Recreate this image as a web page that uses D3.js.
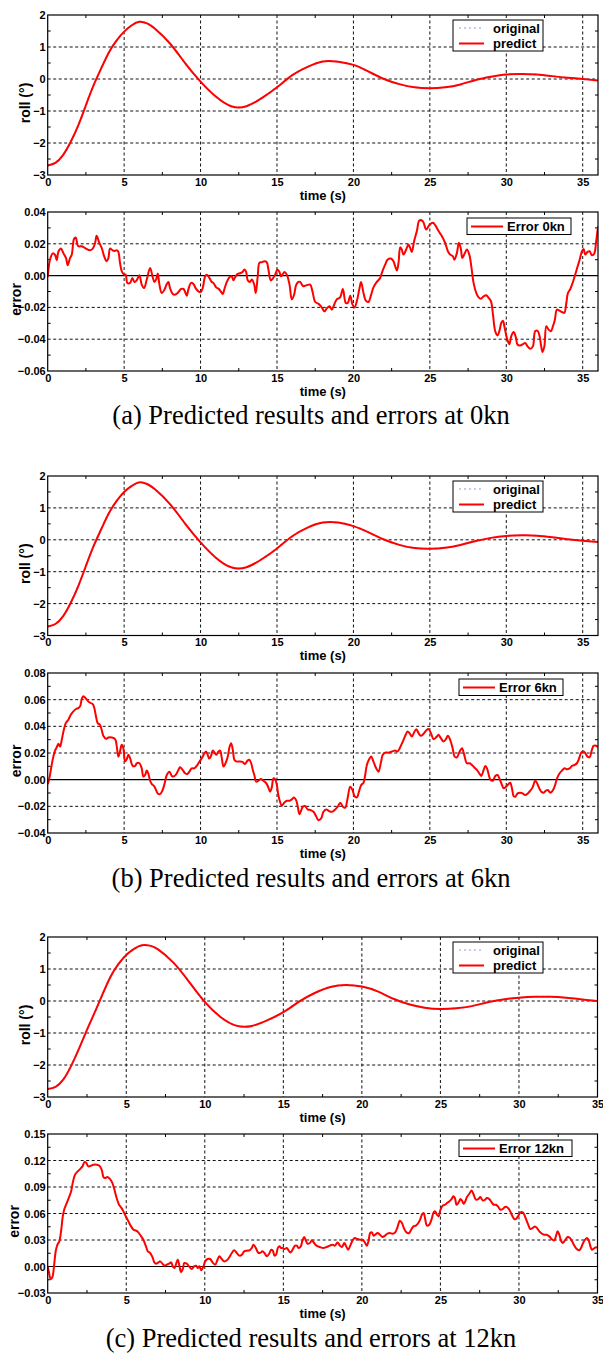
<!DOCTYPE html>
<html><head><meta charset="utf-8">
<script src="https://cdn.jsdelivr.net/npm/d3@7"></script>
<style>body{margin:0;background:#fff}svg{display:block}</style>
</head><body>
<svg id="c" width="603" height="1353"></svg>
<script>
// ---------------- DATA ----------------
const timeTicks = [0, 5, 10, 15, 20, 25, 30, 35];
const rollTicks = [-3, -2, -1, 0, 1, 2];
const err0Ticks = [-0.06, -0.04, -0.02, 0, 0.02, 0.04];
const err6Ticks = [-0.04, -0.02, 0, 0.02, 0.04, 0.06, 0.08];
const err12Ticks = [-0.03, 0, 0.03, 0.06, 0.09, 0.12, 0.15];
const rollLegend = ["original", "predict"];
const errLegend = ["Error 0kn", "Error 6kn", "Error 12kn"];
const captions = ["(a) Predicted results and errors at 0kn", "(b) Predicted results and errors at 6kn", "(c) Predicted results and errors at 12kn"];

const rollTime36 = [0,0.5,1,1.5,2,2.5,3,3.5,4,4.5,5,5.5,6,6.5,7,8,9,10,11,12,13,14,15,16,17,18,19,20,21,22,23,24,25,26,27,28,29,30,31,32,33,34,35,36];
const rollTime35 = [0,0.5,1,1.5,2,2.5,3,3.5,4,4.5,5,5.5,6,6.5,7,8,9,10,11,12,13,14,15,16,17,18,19,20,21,22,23,24,25,26,27,28,29,30,31,32,33,34,35];
const roll0 = [-2.70,-2.62,-2.38,-1.97,-1.45,-0.82,-0.20,0.33,0.83,1.20,1.48,1.68,1.79,1.74,1.58,1.11,0.49,-0.08,-0.55,-0.85,-0.85,-0.60,-0.26,0.12,0.38,0.55,0.54,0.44,0.23,0.00,-0.16,-0.26,-0.29,-0.26,-0.17,-0.03,0.07,0.14,0.16,0.14,0.09,0.04,0.00,-0.05];
const roll6 = [-2.72,-2.64,-2.40,-1.98,-1.45,-0.82,-0.20,0.33,0.83,1.21,1.50,1.69,1.80,1.75,1.59,1.12,0.50,-0.08,-0.56,-0.86,-0.86,-0.61,-0.27,0.11,0.38,0.54,0.54,0.43,0.23,0.01,-0.16,-0.26,-0.28,-0.25,-0.16,-0.04,0.06,0.12,0.14,0.13,0.08,0.02,-0.03,-0.07];
const roll12 = [-2.75,-2.68,-2.45,-2.02,-1.48,-0.90,-0.35,0.22,0.76,1.15,1.44,1.63,1.74,1.73,1.62,1.20,0.60,-0.03,-0.50,-0.77,-0.78,-0.60,-0.35,-0.02,0.25,0.44,0.50,0.45,0.30,0.07,-0.10,-0.21,-0.25,-0.23,-0.16,-0.04,0.05,0.10,0.13,0.13,0.10,0.05,0.00];

// error series: [time (s), error]
const err0 = [[0,-0.001],[0.15,0.010],[0.33,0.014],[0.48,0.013],[0.59,0.0097],[0.7,0.015],[0.87,0.017],[1.03,0.014],[1.2,0.011],[1.31,0.0065],[1.46,0.011],[1.57,0.013],[1.72,0.023],[1.83,0.024],[2.0,0.0185],[2.23,0.0185],[2.5,0.017],[2.77,0.016],[2.95,0.017],[3.1,0.0205],[3.2,0.025],[3.38,0.0205],[3.53,0.0175],[3.7,0.012],[3.86,0.009],[3.97,0.011],[4.08,0.017],[4.23,0.016],[4.36,0.0155],[4.52,0.016],[4.62,0.015],[4.73,0.008],[4.86,0.0023],[5.0,0.0006],[5.1,0.0006],[5.21,-0.0046],[5.39,-0.0046],[5.54,-0.0015],[5.67,-0.004],[5.82,-0.003],[6.0,0.0002],[6.15,-0.0057],[6.3,-0.0078],[6.48,-0.0025],[6.7,0.0048],[6.87,-0.001],[6.98,-0.004],[7.09,-0.0025],[7.2,0.0013],[7.31,-0.0057],[7.46,-0.011],[7.64,-0.0088],[7.79,-0.0053],[7.9,-0.004],[8.0,-0.0078],[8.18,-0.0116],[8.33,-0.012],[8.5,-0.011],[8.73,-0.0084],[8.88,-0.0084],[8.99,-0.0103],[9.1,-0.0126],[9.2,-0.0088],[9.38,-0.0046],[9.53,-0.0053],[9.71,-0.0084],[9.86,-0.0099],[10.01,-0.0103],[10.14,-0.0078],[10.3,-0.0004],[10.41,0.0006],[10.58,-0.0015],[10.73,-0.004],[10.84,-0.0046],[11.02,-0.0074],[11.17,-0.0082],[11.32,-0.0099],[11.45,-0.0116],[11.56,-0.0084],[11.72,-0.004],[11.89,-0.001],[12.04,-0.0004],[12.15,-0.003],[12.26,-0.001],[12.41,0.001],[12.59,0.0015],[12.74,0.0023],[12.87,0.0038],[12.98,0.0023],[13.09,-0.003],[13.24,-0.004],[13.35,-0.0025],[13.5,-0.0053],[13.61,-0.011],[13.74,-0.0004],[13.85,0.008],[14.0,0.0084],[14.18,0.009],[14.33,0.0084],[14.44,0.0038],[14.59,-0.003],[14.72,-0.0019],[14.88,0.0006],[15.03,0.0038],[15.16,0.0023],[15.27,-0.0004],[15.38,0.001],[15.49,0.0023],[15.64,0.0006],[15.82,-0.0057],[15.97,-0.015],[16.12,-0.012],[16.25,-0.006],[16.4,-0.004],[16.51,-0.004],[16.73,-0.0067],[16.95,-0.006],[17.17,-0.0057],[17.32,-0.0099],[17.5,-0.0166],[17.72,-0.0178],[17.93,-0.02],[18.1,-0.0225],[18.27,-0.0204],[18.44,-0.0193],[18.59,-0.0214],[18.74,-0.0183],[18.91,-0.015],[19.13,-0.0137],[19.31,-0.0084],[19.5,-0.0172],[19.63,-0.0172],[19.79,-0.0126],[19.94,-0.0183],[20.07,-0.02],[20.22,-0.0162],[20.38,-0.0088],[20.5,-0.004],[20.66,-0.011],[20.81,-0.0158],[20.98,-0.0166],[21.16,-0.012],[21.31,-0.0074],[21.53,-0.004],[21.75,-0.0015],[21.86,0.0017],[22.08,0.007],[22.23,0.01],[22.45,0.0107],[22.62,0.009],[22.73,0.0059],[22.84,0.0032],[22.95,0.008],[23.06,0.0179],[23.16,0.0164],[23.28,0.0132],[23.45,0.0164],[23.6,0.0195],[23.71,0.0174],[23.82,0.0149],[23.97,0.0216],[24.15,0.028],[24.32,0.0347],[24.54,0.0342],[24.76,0.029],[24.98,0.032],[25.2,0.0332],[25.35,0.0317],[25.57,0.028],[25.79,0.0248],[26.0,0.0206],[26.18,0.0153],[26.33,0.0132],[26.5,0.0122],[26.61,0.01],[26.77,0.0143],[26.9,0.0206],[27.03,0.0168],[27.12,0.0111],[27.27,0.0137],[27.42,0.0164],[27.58,0.0132],[27.71,0.0059],[27.86,-0.0046],[28.04,-0.011],[28.19,-0.0137],[28.34,-0.0145],[28.52,-0.013],[28.69,-0.0124],[28.85,-0.0141],[29.0,-0.0162],[29.13,-0.0246],[29.28,-0.0351],[29.43,-0.0376],[29.57,-0.034],[29.67,-0.0298],[29.78,-0.0284],[29.89,-0.0326],[30.04,-0.0393],[30.2,-0.0431],[30.32,-0.0382],[30.48,-0.0355],[30.61,-0.0382],[30.74,-0.0435],[30.91,-0.0439],[31.09,-0.0431],[31.24,-0.0424],[31.39,-0.0445],[31.57,-0.046],[31.74,-0.0445],[31.89,-0.035],[32.05,-0.0347],[32.18,-0.0382],[32.27,-0.0435],[32.37,-0.048],[32.49,-0.0445],[32.62,-0.0319],[32.77,-0.034],[32.92,-0.035],[33.05,-0.0319],[33.18,-0.0277],[33.31,-0.0214],[33.47,-0.022],[33.64,-0.0229],[33.79,-0.0235],[33.93,-0.0172],[34.03,-0.011],[34.19,-0.0084],[34.36,-0.004],[34.51,0.0006],[34.67,0.0059],[34.8,0.01],[34.95,0.0153],[35.06,0.0168],[35.17,0.0132],[35.32,0.0149],[35.45,0.0153],[35.6,0.0128],[35.75,0.0137],[35.88,0.0216],[36.0,0.031]];

const err6 = [[0,-0.0033],[0.07,-0.0008],[0.15,0.0035],[0.26,0.011],[0.37,0.0173],[0.48,0.0218],[0.59,0.0243],[0.7,0.0269],[0.81,0.0248],[0.92,0.0299],[1.03,0.0361],[1.18,0.0424],[1.35,0.0449],[1.51,0.0487],[1.68,0.0512],[1.85,0.053],[2.0,0.0537],[2.12,0.055],[2.23,0.0605],[2.33,0.0625],[2.51,0.0607],[2.66,0.0587],[2.81,0.0575],[2.95,0.0567],[3.05,0.0537],[3.16,0.0474],[3.27,0.0424],[3.42,0.0412],[3.53,0.0374],[3.64,0.0329],[3.82,0.0306],[3.97,0.0316],[4.19,0.0316],[4.41,0.0304],[4.52,0.0248],[4.62,0.0173],[4.73,0.0211],[4.84,0.0261],[4.95,0.0236],[5.06,0.0136],[5.17,0.0153],[5.28,0.0186],[5.39,0.0161],[5.56,0.0103],[5.72,0.0103],[5.82,0.0123],[6.0,0.0123],[6.15,0.0085],[6.26,0.0023],[6.37,0.0035],[6.48,0.0068],[6.59,0.0043],[6.7,-0.0008],[6.81,-0.0033],[6.96,-0.0048],[7.09,-0.0078],[7.2,-0.0103],[7.35,-0.0108],[7.5,-0.0083],[7.64,-0.0033],[7.79,0.0035],[7.96,0.006],[8.12,0.0028],[8.22,0.0023],[8.4,0.004],[8.55,0.0073],[8.66,0.0093],[8.83,0.0073],[8.99,0.0048],[9.14,0.0043],[9.27,0.006],[9.42,0.0085],[9.58,0.0085],[9.75,0.0103],[9.93,0.0136],[10.08,0.0161],[10.23,0.0193],[10.36,0.0211],[10.45,0.0191],[10.56,0.0158],[10.67,0.0173],[10.8,0.0218],[10.91,0.0203],[11.02,0.0186],[11.17,0.0211],[11.28,0.0218],[11.39,0.0161],[11.5,0.0098],[11.65,0.0128],[11.78,0.0173],[11.89,0.0243],[12.0,0.0274],[12.11,0.0223],[12.22,0.0148],[12.37,0.0136],[12.54,0.0136],[12.74,0.0133],[12.91,0.0118],[13.07,0.0143],[13.2,0.0148],[13.31,0.0123],[13.42,0.0073],[13.53,0.0028],[13.63,-0.0015],[13.79,-0.0008],[13.94,0.0005],[14.11,-0.0008],[14.27,-0.0023],[14.4,-0.0048],[14.55,-0.009],[14.66,-0.0058],[14.77,0.001],[14.88,0.0003],[14.99,-0.004],[15.1,-0.0123],[15.2,-0.0166],[15.31,-0.0196],[15.47,-0.0173],[15.64,-0.0158],[15.82,-0.0158],[15.97,-0.0148],[16.12,-0.0133],[16.25,-0.0153],[16.36,-0.0203],[16.47,-0.0259],[16.69,-0.0203],[16.84,-0.0198],[17.0,-0.0223],[17.21,-0.0228],[17.39,-0.0241],[17.56,-0.0274],[17.71,-0.0304],[17.89,-0.0291],[18.04,-0.0241],[18.22,-0.0223],[18.37,-0.0233],[18.59,-0.0241],[18.81,-0.0223],[18.97,-0.0203],[19.14,-0.0173],[19.31,-0.0203],[19.46,-0.0211],[19.62,-0.014],[19.79,-0.0053],[19.94,-0.0078],[20.07,-0.0123],[20.22,-0.0133],[20.38,-0.0083],[20.51,-0.004],[20.66,-0.0023],[20.77,0.0035],[20.88,0.011],[21.03,0.0153],[21.16,0.0173],[21.31,0.0136],[21.49,0.0085],[21.64,0.006],[21.79,0.0123],[21.92,0.0186],[22.08,0.0203],[22.3,0.0203],[22.52,0.0211],[22.73,0.0218],[22.89,0.0211],[23.06,0.0243],[23.23,0.0286],[23.39,0.0329],[23.54,0.0361],[23.67,0.0349],[23.82,0.0324],[23.97,0.0354],[24.11,0.0379],[24.26,0.0349],[24.41,0.0329],[24.59,0.0344],[24.76,0.0369],[24.91,0.0379],[25.07,0.0349],[25.24,0.0304],[25.42,0.0319],[25.57,0.0336],[25.72,0.0311],[25.9,0.0286],[26.05,0.0304],[26.18,0.0329],[26.33,0.0299],[26.49,0.0236],[26.62,0.0173],[26.77,0.0168],[26.95,0.0211],[27.1,0.0236],[27.25,0.0186],[27.42,0.0123],[27.6,0.0123],[27.75,0.011],[27.9,0.0093],[28.08,0.0073],[28.23,0.0048],[28.36,0.0028],[28.52,0.0073],[28.63,0.0103],[28.74,0.0085],[28.84,0.0043],[28.95,0.0003],[29.12,-0.0008],[29.28,0.0028],[29.43,0.0035],[29.57,0.0003],[29.72,-0.004],[29.83,-0.0065],[29.98,-0.0053],[30.15,-0.0033],[30.26,-0.0023],[30.37,-0.0065],[30.48,-0.0123],[30.59,-0.0128],[30.74,-0.0103],[30.91,-0.0098],[31.07,-0.0103],[31.24,-0.0115],[31.41,-0.0103],[31.57,-0.0083],[31.72,-0.0058],[31.89,-0.0008],[32.0,-0.0023],[32.16,-0.0065],[32.29,-0.009],[32.44,-0.0098],[32.59,-0.0083],[32.72,-0.0078],[32.88,-0.0098],[33.03,-0.0083],[33.16,-0.0053],[33.32,0.001],[33.49,0.0048],[33.64,0.0068],[33.82,0.0085],[33.97,0.0078],[34.14,0.0085],[34.3,0.0103],[34.45,0.011],[34.62,0.0123],[34.77,0.0161],[34.9,0.0203],[35.06,0.0211],[35.17,0.0198],[35.32,0.0173],[35.45,0.0168],[35.6,0.0223],[35.71,0.0254],[35.88,0.0254],[36.03,0.0244]];

const err12 = [[0,0],[0.08,-0.0066],[0.19,-0.0141],[0.3,-0.0119],[0.4,0.0002],[0.51,0.0172],[0.62,0.0247],[0.74,0.0285],[0.85,0.0398],[0.96,0.0567],[1.06,0.065],[1.21,0.0718],[1.36,0.0786],[1.49,0.085],[1.59,0.0944],[1.74,0.1039],[1.91,0.1076],[2.06,0.1103],[2.21,0.1133],[2.34,0.1182],[2.44,0.1178],[2.59,0.1133],[2.74,0.114],[2.91,0.1152],[3.12,0.1152],[3.29,0.114],[3.44,0.1095],[3.55,0.1012],[3.65,0.1001],[3.8,0.1012],[3.97,0.099],[4.12,0.0944],[4.25,0.0869],[4.39,0.0775],[4.54,0.0699],[4.67,0.0669],[4.82,0.0624],[4.99,0.056],[5.14,0.0511],[5.31,0.0454],[5.46,0.0417],[5.63,0.0405],[5.77,0.0386],[5.92,0.0349],[6.09,0.0303],[6.24,0.0236],[6.37,0.0172],[6.52,0.0153],[6.67,0.0107],[6.79,0.0047],[6.9,0.0032],[7.05,0.0047],[7.16,0.0058],[7.3,0.0032],[7.43,0.0009],[7.58,0.0021],[7.73,0.0032],[7.86,0.0047],[7.96,0.0002],[8.07,-0.0017],[8.17,0.0028],[8.28,0.0077],[8.39,0.0002],[8.49,-0.0066],[8.6,-0.0028],[8.7,0.004],[8.85,0.0032],[9.0,0.0002],[9.17,-0.0028],[9.32,0.0002],[9.45,0.0009],[9.55,-0.0017],[9.66,0.0002],[9.77,-0.0043],[9.92,0.0002],[10.02,0.0058],[10.17,0.0085],[10.34,0.0085],[10.49,0.0047],[10.66,0.0021],[10.81,0.0077],[10.93,0.0115],[11.08,0.0085],[11.23,0.0058],[11.4,0.007],[11.57,0.0107],[11.72,0.0153],[11.87,0.0183],[12.04,0.0153],[12.21,0.0123],[12.36,0.0134],[12.51,0.0172],[12.68,0.0179],[12.85,0.0183],[12.99,0.0209],[13.1,0.0247],[13.25,0.0209],[13.38,0.016],[13.52,0.0153],[13.67,0.0172],[13.8,0.0153],[13.95,0.0115],[14.1,0.0145],[14.23,0.019],[14.33,0.0179],[14.44,0.0123],[14.54,0.0134],[14.65,0.0209],[14.76,0.0228],[14.86,0.0209],[14.97,0.0209],[15.07,0.0198],[15.22,0.0209],[15.37,0.0172],[15.48,0.016],[15.61,0.0198],[15.75,0.0236],[15.86,0.0236],[15.97,0.0209],[16.11,0.0228],[16.22,0.0296],[16.33,0.0334],[16.43,0.0296],[16.54,0.0258],[16.69,0.0266],[16.82,0.0296],[16.96,0.0266],[17.11,0.0236],[17.32,0.0221],[17.54,0.0209],[17.75,0.0221],[17.96,0.0236],[18.13,0.0247],[18.28,0.0236],[18.45,0.0273],[18.6,0.0236],[18.73,0.0221],[18.88,0.0266],[18.98,0.0236],[19.13,0.019],[19.26,0.0236],[19.41,0.0296],[19.55,0.0322],[19.72,0.0311],[19.89,0.0303],[20.04,0.0303],[20.19,0.0273],[20.32,0.0236],[20.42,0.0285],[20.53,0.0379],[20.64,0.0386],[20.74,0.0349],[20.85,0.036],[21.0,0.0379],[21.15,0.036],[21.32,0.0334],[21.47,0.0349],[21.63,0.0371],[21.78,0.0379],[21.95,0.0371],[22.12,0.0386],[22.27,0.0447],[22.42,0.0518],[22.55,0.0492],[22.7,0.0424],[22.84,0.0386],[23.01,0.0379],[23.16,0.0424],[23.29,0.0454],[23.44,0.0462],[23.59,0.0492],[23.72,0.0537],[23.82,0.0586],[23.93,0.0605],[24.04,0.053],[24.14,0.0462],[24.29,0.0473],[24.44,0.0537],[24.57,0.0613],[24.67,0.0624],[24.78,0.0586],[24.89,0.0567],[24.99,0.0635],[25.14,0.0688],[25.29,0.0699],[25.42,0.0718],[25.56,0.0737],[25.71,0.0763],[25.82,0.0794],[25.92,0.0775],[26.03,0.0699],[26.16,0.0726],[26.27,0.0763],[26.37,0.0748],[26.48,0.0711],[26.58,0.0737],[26.69,0.0786],[26.84,0.0824],[26.99,0.0861],[27.12,0.0812],[27.26,0.0756],[27.41,0.0763],[27.54,0.0786],[27.69,0.0748],[27.84,0.0756],[27.96,0.0775],[28.11,0.0763],[28.26,0.0726],[28.39,0.0699],[28.54,0.0699],[28.69,0.0673],[28.82,0.0643],[28.96,0.065],[29.11,0.0673],[29.24,0.0673],[29.39,0.0643],[29.54,0.0586],[29.71,0.0537],[29.81,0.0537],[29.96,0.0575],[30.09,0.0613],[30.24,0.0613],[30.34,0.0586],[30.45,0.0537],[30.59,0.0473],[30.72,0.0424],[30.87,0.0435],[31.02,0.0454],[31.15,0.0435],[31.3,0.0398],[31.47,0.0371],[31.61,0.036],[31.76,0.036],[31.93,0.0341],[32.08,0.0311],[32.25,0.0296],[32.35,0.0341],[32.46,0.0398],[32.57,0.036],[32.67,0.0296],[32.78,0.0266],[32.93,0.0296],[33.1,0.0334],[33.25,0.0322],[33.38,0.0285],[33.53,0.0236],[33.68,0.0198],[33.84,0.0183],[33.95,0.0209],[34.06,0.0258],[34.21,0.0303],[34.33,0.0322],[34.44,0.0296],[34.55,0.0228],[34.65,0.019],[34.8,0.0209],[34.97,0.0217]];

// ---------------- DRAWING ----------------
const svg = d3.select('#c');
const SANS = '"Liberation Sans", Arial, sans-serif';
const RED = '#ff0000';
const L = 47.7;
let clipN = 0;

function panel(o) {
  const x = d3.scaleLinear().domain([0, o.xMax]).range([L, o.xRight]);
  const y = d3.scaleLinear().domain([o.yTicks[0], o.yTicks[o.yTicks.length - 1]]).range([o.bottom, o.top]);
  const g = svg.append('g');
  const id = 'clip' + (clipN++);
  g.append('clipPath').attr('id', id).append('rect')
    .attr('x', L).attr('y', o.top).attr('width', o.xRight - L).attr('height', o.bottom - o.top);

  // dashed grid
  const gx = timeTicks.filter(t => t > 0 && t < o.xMax);
  g.selectAll(null).data(gx).join('line')
    .attr('x1', d => x(d)).attr('x2', d => x(d)).attr('y1', o.top).attr('y2', o.bottom)
    .attr('stroke', '#111').attr('stroke-width', 1).attr('stroke-dasharray', '3,2.5');
  const gy = o.yTicks.slice(1, -1).filter(v => !(o.zeroLine && v === 0));
  g.selectAll(null).data(gy).join('line')
    .attr('x1', L).attr('x2', o.xRight).attr('y1', d => y(d)).attr('y2', d => y(d))
    .attr('stroke', '#111').attr('stroke-width', 1).attr('stroke-dasharray', '3,2.5');
  if (o.zeroLine) {
    g.append('line').attr('x1', L).attr('x2', o.xRight).attr('y1', y(0)).attr('y2', y(0))
      .attr('stroke', '#000').attr('stroke-width', 1.2);
  }

  // minor ticks (inward)
  const stepY = o.yTicks[1] - o.yTicks[0];
  const minorY = o.yTicks.slice(0, -1).map(v => v + stepY / 2);
  const minorX = timeTicks.map(t => t + 2.5).filter(t => t < o.xMax);
  const tk = g.append('g').attr('stroke', '#000').attr('stroke-width', 1);
  minorY.forEach(v => {
    tk.append('line').attr('x1', L).attr('x2', L + 3).attr('y1', y(v)).attr('y2', y(v));
    tk.append('line').attr('x1', o.xRight - 3).attr('x2', o.xRight).attr('y1', y(v)).attr('y2', y(v));
  });
  minorX.forEach(t => {
    tk.append('line').attr('x1', x(t)).attr('x2', x(t)).attr('y1', o.bottom).attr('y2', o.bottom - 3);
    tk.append('line').attr('x1', x(t)).attr('x2', x(t)).attr('y1', o.top).attr('y2', o.top + 3);
  });

  // series
  const line = d3.line().x(d => x(d[0])).y(d => y(d[1]))
    .curve(o.smooth ? d3.curveNatural : d3.curveCatmullRom.alpha(0.5));
  const sg = g.append('g').attr('clip-path', `url(#${id})`);
  if (o.original) {
    sg.append('path').attr('d', line(o.original)).attr('fill', 'none')
      .attr('stroke', '#c9c9f2').attr('stroke-width', 2).attr('stroke-dasharray', '2,3');
  }
  sg.append('path').attr('d', line(o.series)).attr('fill', 'none')
    .attr('stroke', RED).attr('stroke-width', 2).attr('stroke-linejoin', 'round');

  // frame
  g.append('rect').attr('x', L).attr('y', o.top).attr('width', o.xRight - L).attr('height', o.bottom - o.top)
    .attr('fill', 'none').attr('stroke', '#000').attr('stroke-width', 1.2);

  // axes labels
  const ax = g.append('g').attr('transform', `translate(0,${o.bottom})`)
    .call(d3.axisBottom(x).tickValues(timeTicks).tickSize(0).tickPadding(3).tickFormat(d3.format('d')));
  const ay = g.append('g').attr('transform', `translate(${L},0)`)
    .call(d3.axisLeft(y).tickValues(o.yTicks).tickSize(0).tickPadding(2).tickFormat(o.fmt));
  [ax, ay].forEach(a => {
    a.select('.domain').remove();
    a.selectAll('text').attr('font-family', SANS).attr('font-weight', 'bold').attr('font-size', 11).attr('fill', '#000');
  });

  g.append('text').attr('x', (L + o.xRight) / 2).attr('y', o.bottom + 24.5).attr('text-anchor', 'middle')
    .attr('font-family', SANS).attr('font-weight', 'bold').attr('font-size', 13).text('time (s)');
  g.append('text').attr('transform', `translate(${o.ylabelX},${(o.top + o.bottom) / 2 + 8}) rotate(-90)`)
    .attr('text-anchor', 'middle').attr('font-family', SANS).attr('font-weight', 'bold').attr('font-size', 14)
    .text(o.ylabel);

  // legend
  const lg = g.append('g');
  if (o.original) {
    const bx = 453, by = o.top + 5;
    lg.append('rect').attr('x', bx).attr('y', by).attr('width', 90).attr('height', 31)
      .attr('fill', '#fff').attr('stroke', '#000').attr('stroke-width', 1);
    lg.append('line').attr('x1', bx + 6).attr('x2', bx + 31).attr('y1', by + 8).attr('y2', by + 8)
      .attr('stroke', '#c9c9f2').attr('stroke-width', 2).attr('stroke-dasharray', '2,3');
    lg.append('line').attr('x1', bx + 6).attr('x2', bx + 31).attr('y1', by + 23.5).attr('y2', by + 23.5)
      .attr('stroke', RED).attr('stroke-width', 2);
    lg.selectAll(null).data(rollLegend).join('text')
      .attr('x', bx + 40).attr('y', (d, i) => by + 8 + i * 15.5).attr('dy', '0.35em')
      .attr('font-family', SANS).attr('font-weight', 'bold').attr('font-size', 13).text(d => d);
  } else {
    const bx = o.legendX, by = o.top + 6;
    lg.append('rect').attr('x', bx).attr('y', by).attr('width', o.legendW).attr('height', 16.5)
      .attr('fill', '#fff').attr('stroke', '#000').attr('stroke-width', 1);
    lg.append('line').attr('x1', bx + 4).attr('x2', bx + 36).attr('y1', by + 8.5).attr('y2', by + 8.5)
      .attr('stroke', RED).attr('stroke-width', 2);
    lg.append('text').attr('x', bx + 40).attr('y', by + 8.5).attr('dy', '0.35em')
      .attr('font-family', SANS).attr('font-weight', 'bold').attr('font-size', 13).text(o.legend);
  }
}

function caption(text, yBase) {
  svg.append('text').attr('x', 311).attr('y', yBase).attr('text-anchor', 'middle')
    .attr('font-family', '"Liberation Serif", "Times New Roman", serif').attr('font-size', 26.5).attr('fill', '#000')
    .text(text);
}

const toPts = (ts, vs) => ts.map((t, i) => [t, vs[i]]);
const fmtInt = d3.format('d');
const fmt2 = d3.format('.2f');

// (a) 0kn
panel({top: 15, bottom: 175, xMax: 36, xRight: 598, yTicks: rollTicks, fmt: fmtInt, ylabel: 'roll (°)', ylabelX: 30, smooth: true,
  series: toPts(rollTime36, roll0), original: toPts(rollTime36, roll0)});
panel({top: 212, bottom: 371, xMax: 36, xRight: 598, yTicks: err0Ticks, fmt: fmt2, ylabel: 'error', ylabelX: 20.5,
  zeroLine: true, series: err0, legend: errLegend[0], legendX: 467, legendW: 104});
caption(captions[0], 424);

// (b) 6kn
panel({top: 476, bottom: 635.5, xMax: 36, xRight: 598, yTicks: rollTicks, fmt: fmtInt, ylabel: 'roll (°)', ylabelX: 30, smooth: true,
  series: toPts(rollTime36, roll6), original: toPts(rollTime36, roll6)});
panel({top: 673, bottom: 833, xMax: 36, xRight: 598, yTicks: err6Ticks, fmt: fmt2, ylabel: 'error', ylabelX: 20.5,
  zeroLine: true, series: err6, legend: errLegend[1], legendX: 459, legendW: 104});
caption(captions[1], 887);

// (c) 12kn
panel({top: 937, bottom: 1097, xMax: 35, xRight: 597.5, yTicks: rollTicks, fmt: fmtInt, ylabel: 'roll (°)', ylabelX: 30, smooth: true,
  series: toPts(rollTime35, roll12), original: toPts(rollTime35, roll12)});
panel({top: 1134, bottom: 1293, xMax: 35, xRight: 597.5, yTicks: err12Ticks, fmt: fmt2, ylabel: 'error', ylabelX: 19,
  zeroLine: true, series: err12, legend: errLegend[2], legendX: 459, legendW: 113});
caption(captions[2], 1347);
</script>
</body></html>
